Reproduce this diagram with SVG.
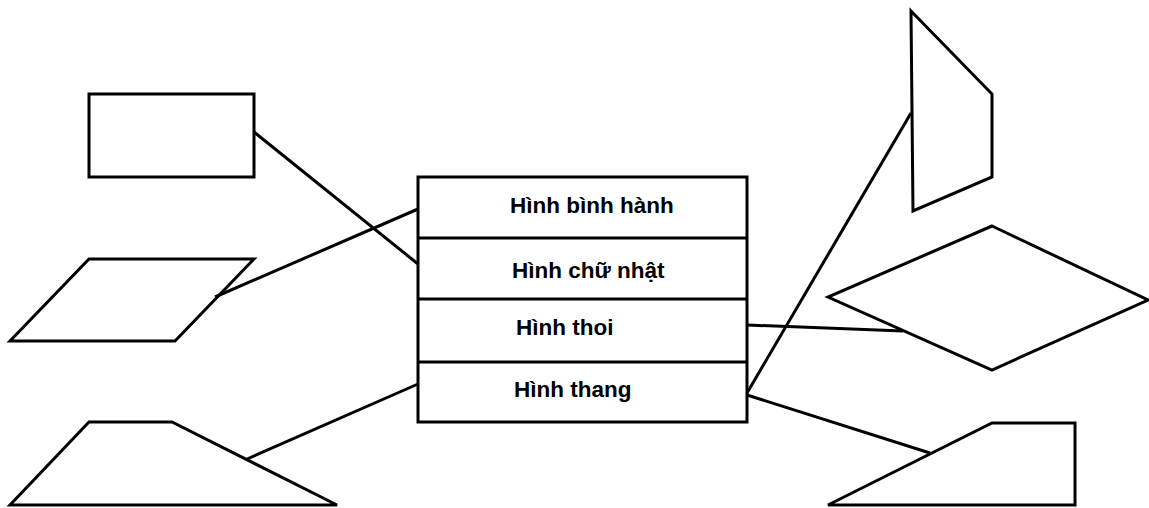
<svg xmlns="http://www.w3.org/2000/svg" width="1149" height="508" viewBox="0 0 1149 508">
<style>
.s{fill:none;stroke:#000;stroke-width:3;stroke-linejoin:miter}
.b{fill:#fff;stroke:#000;stroke-width:3}
.c{stroke:#000;stroke-width:3;fill:none}
.t{font-family:"Liberation Sans",Arial,sans-serif;font-weight:bold;font-size:22.5px;fill:#000}
</style>
<rect width="1149" height="508" fill="#fff"/>
<g id="shape-rect"><rect class="s" x="89" y="94" width="165" height="83"/></g>
<g id="shape-parallelogram"><polygon class="s" points="89,259 254,259 175,341 10,341"/></g>
<g id="shape-trapezoid-left"><polygon class="s" points="89,422 172,422 337,505 10,505"/></g>
<g id="shape-quad-top"><polygon class="s" points="911,11 992,94 992,177 913,211"/></g>
<g id="shape-rhombus"><polygon class="s" points="992,226 1148,300 992,370 828,297"/></g>
<g id="shape-trapezoid-right"><polygon class="s" points="992,423 1075,423 1075,505 828,505"/></g>
<g id="connectors">
<line class="c" x1="254" y1="132" x2="418" y2="264"/>
<line class="c" x1="215" y1="297" x2="418" y2="209"/>
<line class="c" x1="247" y1="459" x2="418" y2="384"/>
<line class="c" x1="747" y1="393" x2="911" y2="113"/>
<line class="c" x1="747" y1="325" x2="903" y2="331"/>
<line class="c" x1="747" y1="395" x2="930" y2="453"/>
</g>
<g id="box">
<rect class="s" x="418" y="177" width="329" height="245"/>
<line class="c" x1="418" y1="238" x2="747" y2="238"/>
<line class="c" x1="418" y1="299" x2="747" y2="299"/>
<line class="c" x1="418" y1="362" x2="747" y2="362"/>
<text class="t" x="510" y="213">Hình bình hành</text>
<text class="t" x="512" y="278">Hình chữ nhật</text>
<text class="t" x="516" y="335">Hình thoi</text>
<text class="t" x="514" y="397">Hình thang</text>
</g>
</svg>
